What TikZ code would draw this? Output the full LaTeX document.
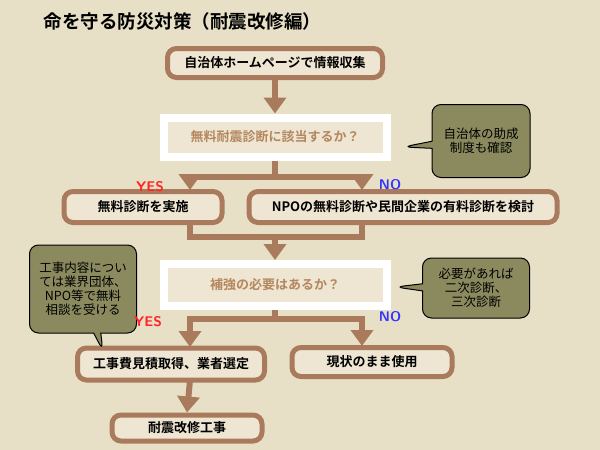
\documentclass[tikz,border=0pt]{standalone}
\usepackage{fontspec}
\setmainfont{Noto Sans CJK JP}[BoldFont={Noto Sans CJK JP Bold}]
\usetikzlibrary{arrows.meta,shapes.callouts}
\definecolor{bg}{RGB}{232,224,198}
\definecolor{brn}{RGB}{170,122,92}
\definecolor{boxfill}{RGB}{238,230,210}
\definecolor{olive}{RGB}{138,138,94}
\definecolor{qtxt}{RGB}{180,135,95}
\tikzset{
  stepbox/.style={draw=brn, line width=5pt, rounded corners=9pt, fill=boxfill,
    font=\bfseries\fontsize{13}{15}\selectfont, inner sep=0pt},
  ask/.style={draw=white, line width=8pt, fill=boxfill, text=qtxt,
    font=\bfseries\fontsize{13}{15}\selectfont, inner sep=0pt},
  note/.style={rectangle callout, draw=black, line width=1pt, fill=olive,
    rounded corners=9pt, align=center, font=\fontsize{12.5}{14}\selectfont, inner sep=0pt},
  flow/.style={draw=brn, line width=6pt},
  down/.style={flow, -{Triangle[width=22pt,length=16pt]}},
  yes/.style={text=red!85!white, font=\bfseries\sffamily\fontsize{14}{15}\selectfont},
  no/.style={text=blue!80!white, font=\bfseries\sffamily\fontsize{14}{15}\selectfont}
}
\begin{document}
\begin{tikzpicture}[x=1pt,y=-1pt]
\fill[bg] (0,0) rectangle (600,450);
\useasboundingbox (0,0) rectangle (600,450);

\node[anchor=west, font=\bfseries\fontsize{18.5}{20}\selectfont] (title) at (40,21) {命を守る防災対策（耐震改修編）};

% boxes
\node[stepbox, minimum width=215pt, minimum height=29pt] (info) at (275,63) {自治体ホームページで情報収集};
\node[ask, minimum width=223pt, minimum height=39pt] (q1) at (275,137) {無料耐震診断に該当するか？};
\node[stepbox, minimum width=158pt, minimum height=31pt] (free) at (143,207) {無料診断を実施};
\node[stepbox, minimum width=308pt, minimum height=31pt] (paid) at (403,207) {NPOの無料診断や民間企業の有料診断を検討};
\node[ask, minimum width=223pt, minimum height=42pt] (q2) at (275,285) {補強の必要はあるか？};
\node[stepbox, minimum width=187pt, minimum height=32pt] (quote) at (171,364) {工事費見積取得、業者選定};
\node[stepbox, minimum width=160pt, minimum height=29pt] (keep) at (372,362) {現状のまま使用};
\node[stepbox, minimum width=150pt, minimum height=26pt] (work) at (187,428) {耐震改修工事};

% notes
\node[note, minimum width=98pt, minimum height=73pt, callout absolute pointer={(403,147)}] (n1) at (481,141) {自治体の助成\\制度も確認};
\node[note, minimum width=107pt, minimum height=60pt, callout absolute pointer={(395,287)}] (n2) at (476,288) {必要があれば\\二次診断、\\三次診断};
\node[note, minimum width=107pt, minimum height=88pt, callout absolute pointer={(103,351)}] (n3) at (83,289) {工事内容につい\\ては業界団体、\\NPO等で無料\\相談を受ける};

% connectors
\coordinate (s1) at (275,177);
\coordinate (s2) at (275,237);
\coordinate (s3) at (275,319);
\draw[down] (info) -- (q1.north);
\draw[flow] (q1) -- (s1);
\draw[down] (s1) -| (190,190);
\draw[down] (s1) -| (362,190);
\draw[flow] (190,222) |- (s2) -| (362,222);
\draw[down] (s2) -- (q2.north);
\draw[flow] (q2) -- (s3);
\draw[down] (s3) -| (190,347);
\draw[down] (s3) -| (362,346);
\draw[down] (190,380) -- (work.north);

\node[yes] (y1) at (150,187) {YES};
\node[no] (n1l) at (390,185) {NO};
\node[yes] (y2) at (148,322) {YES};
\node[no] (n2l) at (390,317) {NO};
\end{tikzpicture}
\end{document}
